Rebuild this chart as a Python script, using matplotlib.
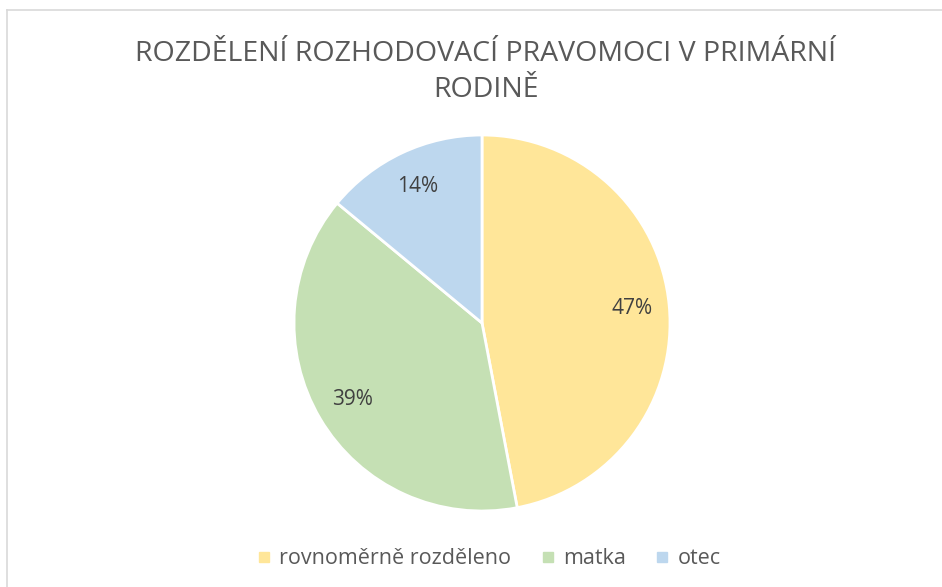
import matplotlib.pyplot as plt
from matplotlib.lines import Line2D

labels = ["rovnoměrně rozděleno", "matka", "otec"]
values = [47, 39, 14]
colors = ["#FFE699", "#C5E0B4", "#BDD7EE"]
title = "ROZDĚLENÍ ROZHODOVACÍ PRAVOMOCI V PRIMÁRNÍ\nRODINĚ"

plt.rcParams["font.family"] = ["Open Sans", "DejaVu Sans"]

W, H = 942, 587
fig = plt.figure(figsize=(W / 100, H / 100), dpi=100)

# chart frame (only left and top edges visible)
fig.add_artist(Line2D([7 / W, 7 / W], [0, 1 - 10 / H], color="#D9D9D9", lw=1.2))
fig.add_artist(Line2D([7 / W, 1], [1 - 10 / H, 1 - 10 / H], color="#D9D9D9", lw=1.2))

cx, cy, r = 482, 323, 188
ax = fig.add_axes([(cx - r) / W, (H - cy - r) / H, 2 * r / W, 2 * r / H])
wedges, texts, autotexts = ax.pie(
    values, colors=colors, startangle=90, counterclock=False,
    autopct="%1.0f%%", pctdistance=0.8,
    wedgeprops=dict(edgecolor="white", linewidth=2),
    textprops=dict(color="#404040", fontsize=15),
)
ax.set_xlim(-1, 1)
ax.set_ylim(-1, 1)
ax.set_aspect("equal")
ax.axis("off")

fig.text(486 / W, 1 - 72 / H, title, ha="center", va="center",
         fontsize=20.5, color="#595959", linespacing=1.42)

handles = [Line2D([], [], marker="s", ls="", markersize=7, color=c) for c in colors]
fig.legend(handles, labels, loc="center", bbox_to_anchor=(488 / W, 1 - 559 / H),
           ncol=3, frameon=False, fontsize=15.5, labelcolor="#595959",
           handletextpad=0.3, columnspacing=1.3, handlelength=0.8)

fig.savefig("out.png", dpi=100)
